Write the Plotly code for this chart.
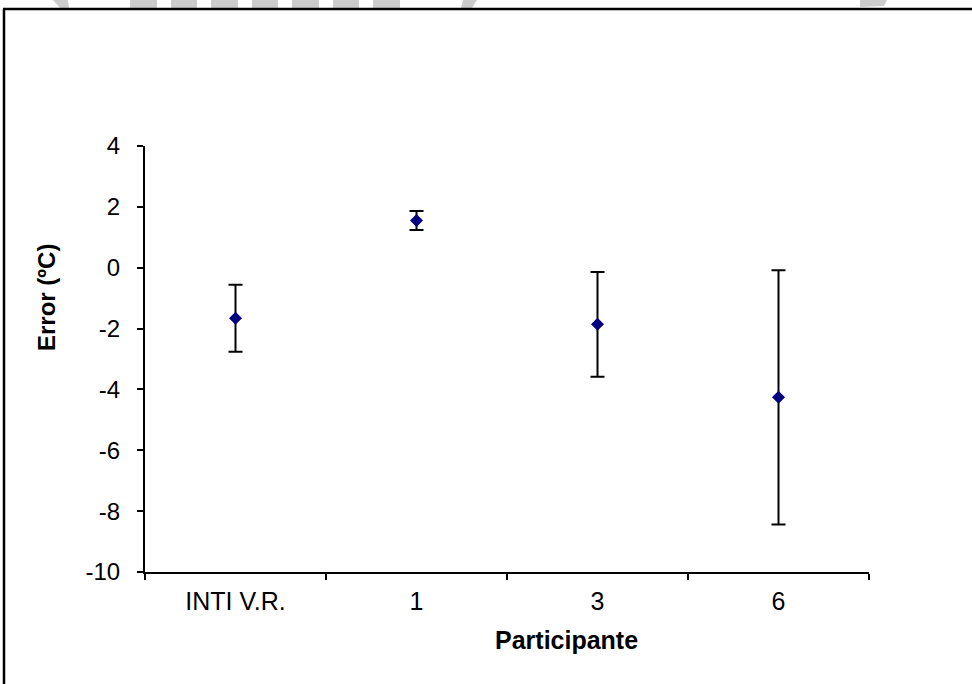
import plotly.graph_objects as go

# ---- data ----
participants = ["INTI V.R.", "1", "3", "6"]
error_mean = [-1.66, 1.55, -1.86, -4.26]
error_sd = [1.10, 0.31, 1.72, 4.18]
y_ticks = [-10, -8, -6, -4, -2, 0, 2, 4]
y_tick_labels = ["-10", "-8", "-6", "-4", "-2", "0", "2", "4"]

W, H = 972, 684
L, R, T, B = 145, 103, 146, 112
PW, PH = W - L - R, H - T - B

def px(x):
    return (x - L) / PW

def py(y):
    return (H - B - y) / PH

FONT = "Liberation Sans, Arial, sans-serif"

fig = go.Figure()
fig.add_trace(go.Scatter(
    x=participants, y=error_mean, mode="markers",
    marker=dict(symbol="diamond", size=10, color="#000080"),
    error_y=dict(type="data", array=error_sd, symmetric=True,
                 color="black", thickness=2, width=7),
    showlegend=False,
))

shapes = []
# outer frame (left and top edges visible)
shapes.append(dict(type="line", xref="paper", yref="paper",
                   x0=px(4), x1=px(4), y0=py(9), y1=py(H + 5),
                   line=dict(color="black", width=2.5)))
shapes.append(dict(type="line", xref="paper", yref="paper",
                   x0=px(3), x1=px(W + 5), y0=py(9), y1=py(9),
                   line=dict(color="black", width=2.5)))
# grey decorative bits at top edge
rects = [(130, 157), (171, 197), (211, 238), (252, 278), (292, 319), (333, 359), (373, 400)]
for a, b in rects:
    shapes.append(dict(type="rect", xref="paper", yref="paper",
                       x0=px(a), x1=px(b), y0=py(0), y1=py(8),
                       fillcolor="#cccccc", line=dict(width=0), layer="below"))
for pts in [[(53, 0), (68, 0), (69, 8), (60, 8)],
            [(463, 0), (477, 0), (472, 8), (461, 8)],
            [(860, 0), (887, 0), (884, 6), (860, 7)]]:
    d = "M " + " L ".join(f"{px(x)},{py(y)}" for x, y in pts) + " Z"
    shapes.append(dict(type="path", xref="paper", yref="paper", path=d,
                       fillcolor="#cccccc", line=dict(width=0), layer="below"))

fig.update_layout(
    width=W, height=H,
    margin=dict(l=L, r=R, t=T, b=B, pad=0),
    paper_bgcolor="white", plot_bgcolor="white",
    font=dict(family=FONT, size=24, color="black"),
    shapes=shapes,
    annotations=[
        dict(text="<b>Participante</b>", xref="paper", yref="paper",
             x=px(566), y=py(640), xanchor="center", yanchor="middle",
             showarrow=False, font=dict(family=FONT, size=25, color="black")),
        dict(text="<b>Error (ºC)</b>", xref="paper", yref="paper",
             x=px(46), y=py(297), xanchor="center", yanchor="middle",
             textangle=-90, showarrow=False,
             font=dict(family=FONT, size=24, color="black")),
    ],
)
fig.update_xaxes(
    type="category", range=[-0.5, 3.5], tickson="boundaries",
    ticks="outside", ticklen=6, tickwidth=2, tickcolor="black",
    showline=True, linewidth=2, linecolor="black", showgrid=False,
    zeroline=False, ticklabelstandoff=6,
    tickfont=dict(family=FONT, size=25, color="black"),
)
fig.update_yaxes(
    range=[-10, 4], tickvals=y_ticks, ticktext=y_tick_labels,
    ticks="outside", ticklen=6, tickwidth=2, tickcolor="black",
    showline=True, linewidth=2, linecolor="black", showgrid=False,
    zeroline=False, ticklabelstandoff=12,
    tickfont=dict(family=FONT, size=24, color="black"),
)

fig.write_html("out.html")
